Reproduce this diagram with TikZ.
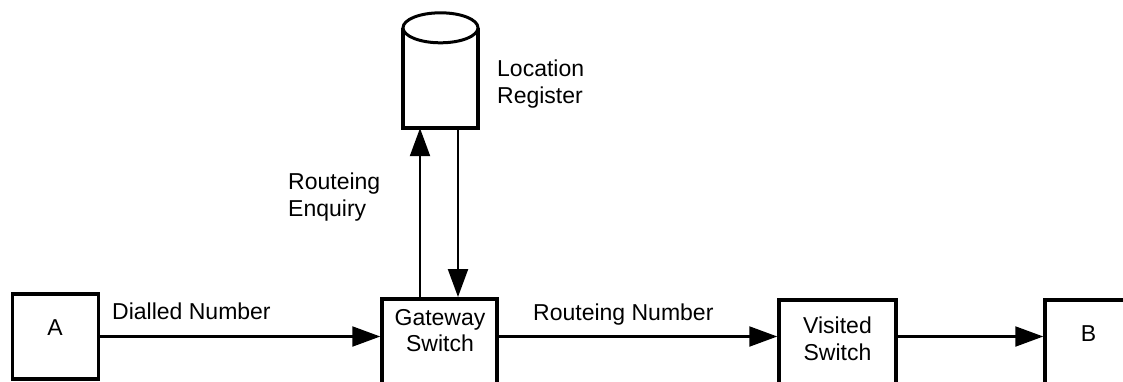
\documentclass[tikz,border=0pt]{standalone}
\usepackage{fontspec}
\setmainfont{Liberation Sans}
\usetikzlibrary{arrows.meta,positioning}
\tikzset{>={Triangle[length=28pt,width=20pt]}}
\tikzset{box/.style={draw, line width=3.5pt, inner sep=0pt},
    lbl/.style={inner sep=0pt, font=\fontsize{23}{26.5}\selectfont},
    link/.style={->, line width=2.2pt}}

\begin{document}
\begin{tikzpicture}[x=1pt, y=-1pt]
    \useasboundingbox (0,0) rectangle (1123,381);
    \clip (0,0) rectangle (1123,381);
    \node[box, minimum width=86pt, minimum height=85pt] (A) at (55.5,336.5) {};
    \node[box, minimum width=115pt, minimum height=100pt, anchor=north] (GW) at (439.5,297) {};
    \node[box, minimum width=117pt, minimum height=100pt, anchor=north] (VS) at (837.5,298) {};
    \node[box, minimum width=87pt, minimum height=100pt, anchor=north] (B) at (1088.5,298) {};
    \node[inner sep=0pt, minimum width=75pt, minimum height=100pt] (LR) at (440.5,78) {};
    \draw[line width=3.5pt] (LR.north west) -- (LR.south west) -- (LR.south east) -- (LR.north east);
    \draw[line width=3pt, fill=white] (LR.north) ellipse [x radius=37.5pt, y radius=15pt];
    \draw[link] (A.east) -- (A.east -| GW.west);
    \draw[link] (A.east -| GW.east) -- (A.east -| VS.west);
    \draw[link] (A.east -| VS.east) -- (A.east -| B.west);
    \draw[link] ([xshift=-19.5pt]GW.north) -- ([xshift=-19.5pt]GW.north |- LR.south);
    \draw[link] ([xshift=18.5pt]GW.north |- LR.south) -- ([xshift=18.5pt]GW.north);
    \node[lbl, anchor=north] (Atext) at (55,319) {A};
    \node[lbl, anchor=north, align=center] (GWtext) at (440,309) {Gateway\\Switch};
    \node[lbl, anchor=north, align=center] (VStext) at (837.5,317) {Visited\\Switch};
    \node[lbl, anchor=north] (Btext) at (1088.5,325) {B};
    \node[lbl, anchor=north west, align=left] (LRtext) at (497,60) {Location\\Register};
    \node[lbl, anchor=north west, align=left] (enquiry) at (288,173) {Routeing\\Enquiry};
    \node[lbl, anchor=base west] (dialled) at (112,319) {Dialled Number};
    \node[lbl, anchor=base west] (routeing) at (533,320) {Routeing Number};
\end{tikzpicture}
\end{document}
